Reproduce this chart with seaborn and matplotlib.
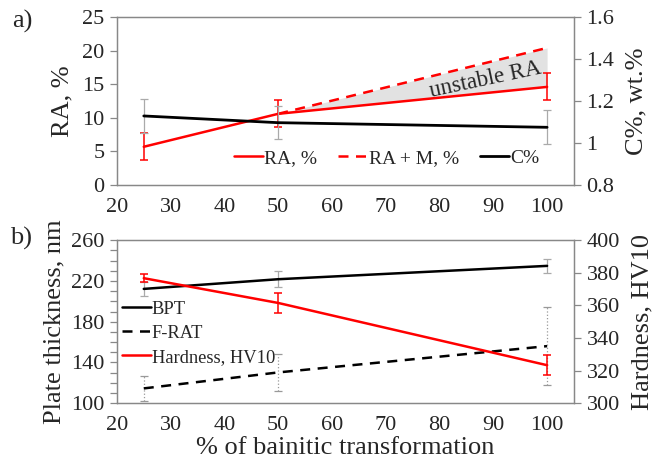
import matplotlib
matplotlib.use("Agg")
import matplotlib.pyplot as plt
from matplotlib.ticker import MultipleLocator, FixedLocator, FuncFormatter
import seaborn as sns
import pandas as pd
import numpy as np

# data
bainite = [25, 50, 100]
ra = [5.7, 10.6, 14.6]
ra_err = [2.0, 2.0, 2.0]
ra_m_x = [50, 100]
ra_m = [10.6, 20.4]
carbon = [1.129, 1.097, 1.075]
carbon_err = [0.08, 0.08, 0.08]

bpt = [212.2, 221.7, 234.8]
bpt_err = [7.0, 8.0, 7.0]
frat = [114.5, 130.2, 156.0]
frat_err = [12.5, 18.0, 38.0]
hardness = [376.7, 361.5, 323.3]
hardness_err = [2.5, 6.0, 6.0]

RED = "#ff0000"
GREY = "#888888"

sns.set_style("white")
plt.rcParams["font.family"] = ["Liberation Serif", "DejaVu Serif"]

fig = plt.figure(figsize=(6.53, 4.71), dpi=100)
ax_a = fig.add_axes([0.179, 0.607, 0.700, 0.357])
ax_b = fig.add_axes([0.179, 0.144, 0.700, 0.346])
ax_a2 = ax_a.twinx()
ax_b2 = ax_b.twinx()


def style_axis(ax):
    for s in ax.spines.values():
        s.set_color(GREY)
        s.set_linewidth(0.9)
    ax.tick_params(which="both", direction="out", color=GREY, length=5,
                   width=0.9, labelsize=16, pad=4)


def gfmt(v, pos):
    return "%g" % round(v, 3)


# ---- panel a
top = pd.DataFrame({"x": bainite, "RA": ra, "C": carbon})
top_m = pd.DataFrame({"x": ra_m_x, "RAM": ra_m})

ra_at = np.interp(ra_m_x, bainite, ra)
ax_a.fill_between(ra_m_x, ra_at, ra_m, color="#e2e2e2", lw=0, zorder=1)

ax_a2.errorbar(bainite, carbon, yerr=carbon_err, fmt="none", ecolor="#aaaaaa",
               elinewidth=0.9, capsize=3, capthick=0.9, zorder=2)
sns.lineplot(data=top, x="x", y="C", ax=ax_a2, color="black", lw=2, label="C%")
ax_a.errorbar(bainite, ra, yerr=ra_err, fmt="none", ecolor=RED,
              elinewidth=1.1, capsize=3, capthick=1.1, zorder=2)
sns.lineplot(data=top, x="x", y="RA", ax=ax_a, color=RED, lw=1.8, label="RA, %")
sns.lineplot(data=top_m, x="x", y="RAM", ax=ax_a, color=RED, lw=1.8,
             linestyle=(0, (4, 3)), label="RA + M, %")

ax_a.text(88.5, 15.7, "unstable RA", fontsize=16.5, rotation=12,
          ha="center", va="center")

ax_a.set_xlim(20, 105)
ax_a.set_ylim(0, 25)
ax_a2.set_ylim(0.8, 1.6)
ax_a.xaxis.set_major_locator(MultipleLocator(10))
ax_a.xaxis.set_minor_locator(MultipleLocator(5))
ax_a.yaxis.set_major_locator(MultipleLocator(5))
ax_a2.yaxis.set_major_locator(FixedLocator(np.arange(0.8, 1.61, 0.2)))
ax_a2.yaxis.set_major_formatter(FuncFormatter(gfmt))
ax_a.set_xlabel("")
ax_a.set_ylabel("RA, %", fontsize=19, labelpad=6)
ax_a2.set_ylabel("C%, wt.%", fontsize=19, labelpad=8)

h1, l1 = ax_a.get_legend_handles_labels()
h2, l2 = ax_a2.get_legend_handles_labels()
ax_a2.get_legend().remove()
ax_a.get_legend().remove()
ax_a2.legend(h1 + h2, l1 + l2, loc="center", bbox_to_anchor=(0.59, 0.16),
             ncol=3, frameon=False, fontsize=14, handlelength=1.5,
             handletextpad=0.05, columnspacing=1.1)

# ---- panel b
bot = pd.DataFrame({"x": bainite, "BPT": bpt, "FRAT": frat, "HV": hardness})

ax_b.errorbar(bainite, bpt, yerr=bpt_err, fmt="none", ecolor="#aaaaaa",
              elinewidth=0.9, capsize=3, capthick=0.9, zorder=2)
eb = ax_b.errorbar(bainite, frat, yerr=frat_err, fmt="none", ecolor="#999999",
                   elinewidth=0.9, capsize=3, capthick=0.9, zorder=2)
eb[2][0].set_linestyle(":")
sns.lineplot(data=bot, x="x", y="BPT", ax=ax_b, color="black", lw=1.8, label="BPT")
sns.lineplot(data=bot, x="x", y="FRAT", ax=ax_b, color="black", lw=1.8,
             linestyle=(0, (4, 3)), label="F-RAT")
ax_b2.errorbar(bainite, hardness, yerr=hardness_err, fmt="none", ecolor=RED,
               elinewidth=1.1, capsize=3, capthick=1.1, zorder=2)
sns.lineplot(data=bot, x="x", y="HV", ax=ax_b2, color=RED, lw=1.8,
             label="Hardness, HV10")

ax_b.set_xlim(20, 105)
ax_b.set_ylim(100, 260)
ax_b2.set_ylim(300, 400)
ax_b.xaxis.set_major_locator(MultipleLocator(10))
ax_b.xaxis.set_minor_locator(MultipleLocator(5))
ax_b.yaxis.set_major_locator(FixedLocator(np.arange(100, 261, 40)))
ax_b.yaxis.set_minor_locator(MultipleLocator(10))
ax_b2.yaxis.set_major_locator(MultipleLocator(20))
ax_b.set_xlabel("% of bainitic transformation", fontsize=19, labelpad=2)
ax_b.set_ylabel("Plate thickness, nm", fontsize=19, labelpad=4)
ax_b2.set_ylabel("Hardness, HV10", fontsize=19, labelpad=8)

h1, l1 = ax_b.get_legend_handles_labels()
h2, l2 = ax_b2.get_legend_handles_labels()
ax_b2.get_legend().remove()
ax_b.get_legend().remove()
ax_b2.legend(h1 + h2, l1 + l2, loc="upper left", bbox_to_anchor=(-0.025, 0.73),
             frameon=False, fontsize=13.3, handlelength=1.55, handletextpad=0.05,
             labelspacing=0.38)

for ax in (ax_a, ax_a2, ax_b, ax_b2):
    style_axis(ax)
    ax.grid(False)

fig.text(0.018, 0.955, "a)", fontsize=19, va="center")
fig.text(0.015, 0.493, "b)", fontsize=19, va="center")

fig.savefig("out.png", dpi=100)
